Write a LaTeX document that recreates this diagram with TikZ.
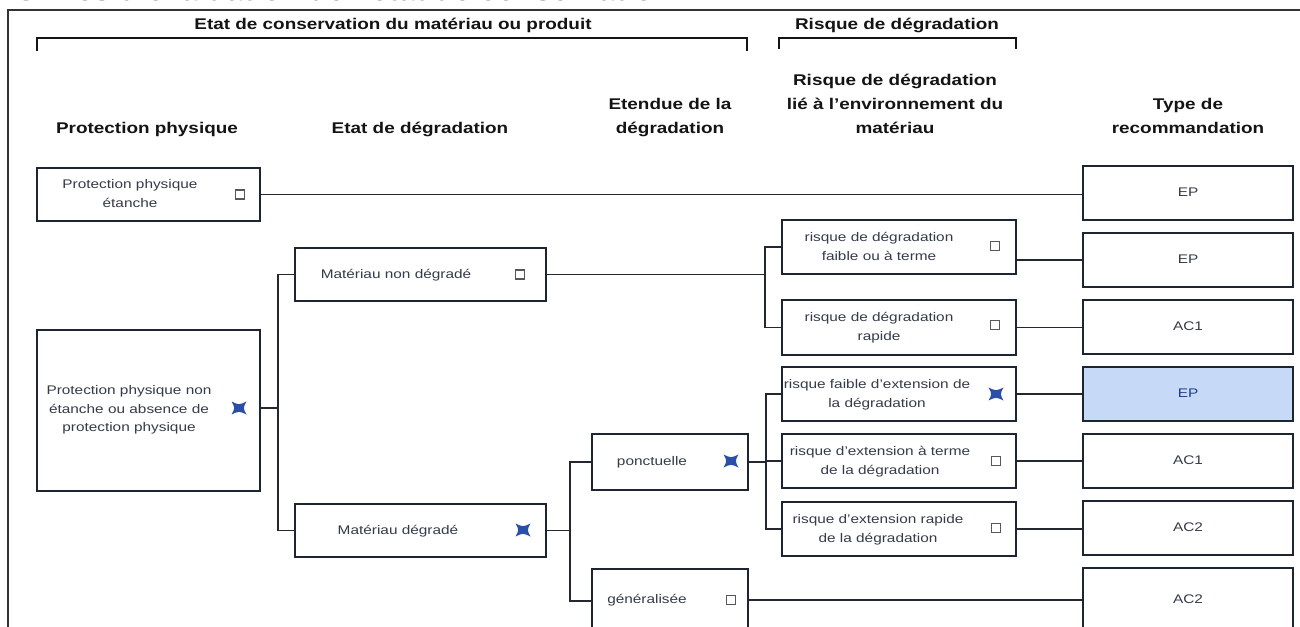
\documentclass[tikz,border=0pt]{standalone}
\usepackage{fontspec}
\setmainfont{Liberation Sans}
\definecolor{boxc}{HTML}{1E2532}
\definecolor{conc}{HTML}{23272F}
\definecolor{txtc}{HTML}{353B48}
\definecolor{hdrc}{HTML}{141414}
\definecolor{xblue}{HTML}{2B4FA6}
\definecolor{hlfill}{HTML}{C6DAF7}
\definecolor{chkc}{HTML}{55585F}
\newcommand\bt[1]{\scalebox{1.23}[1]{\fontsize{12.5}{19}\selectfont\begin{tabular}{@{}c@{}}#1\end{tabular}}}
\newcommand\btt[1]{\scalebox{1.23}[1]{\fontsize{12.5}{18.5}\selectfont\begin{tabular}{@{}c@{}}#1\end{tabular}}}
\newcommand\hdr[1]{\scalebox{1.22}[1]{\fontsize{15.5}{24}\selectfont\bfseries\begin{tabular}{@{}c@{}}#1\end{tabular}}}
\begin{document}
\begin{tikzpicture}[x=1pt,y=-1pt,
  box/.style={draw=boxc,line width=1.7pt,fill=white,inner sep=0pt},
  hlbox/.style={box,fill=hlfill},
  con/.style={draw=conc,line width=1.7pt},
  brk/.style={draw=hdrc,line width=1.5pt},
  frm/.style={draw=black!80,line width=1.4pt},
  txt/.style={text=txtc,inner sep=0pt},
  hd/.style={text=hdrc,inner sep=0pt},
  chk/.style={draw=chkc,line width=1.2pt,minimum size=9pt,inner sep=0pt,fill=white},
  xm/.pic={\fill[xblue] (-7.5,-6.5) .. controls (0,-3) .. (7.5,-6.5) .. controls (4,0) .. (7.5,6.5) .. controls (0,3) .. (-7.5,6.5) .. controls (-4,0) .. (-7.5,-6.5) -- cycle;}
]
\useasboundingbox (0,0) rectangle (1300,626);
\fill[white] (0,0) rectangle (1300,626);
% cut-off title
\node[hd,anchor=base west,font=\fontsize{31}{34}\selectfont\bfseries] (title) at (14,1) {Grilles d'évaluation de l'état de conservation};
% frame
\draw[frm] (8,650) -- (8,10) -- (1310,10);
% brackets
\draw[brk] (37,51) -- (37,38) -- (747,38) -- (747,51);
\draw[brk] (779,49) -- (779,38) -- (1016,38) -- (1016,49);
\node[hd] (b1) at (393,25) {\hdr{Etat de conservation du matériau ou produit}};
\node[hd] (b2) at (897,25) {\hdr{Risque de dégradation}};
% column headers
\node[hd] (h1) at (147,129) {\hdr{Protection physique}};
\node[hd] (h2) at (420,129) {\hdr{Etat de dégradation}};
\node[hd] (h3) at (670,117) {\hdr{Etendue de la\\dégradation}};
\node[hd] (h4) at (895,105) {\hdr{Risque de dégradation\\lié à l'environnement du\\matériau}};
\node[hd] (h5) at (1188,117) {\hdr{Type de\\recommandation}};
% boxes
\node[box,minimum width=223pt,minimum height=53pt] (pe) at (148.5,194.5) {};
\node[box,minimum width=223pt,minimum height=161pt] (pn) at (148.5,410.5) {};
\node[box,minimum width=251pt,minimum height=53pt] (mn) at (420.5,274.5) {};
\node[box,minimum width=251pt,minimum height=53pt] (md) at (420.5,530.5) {};
\node[box,minimum width=156pt,minimum height=56pt] (po) at (670,462) {};
\node[box,minimum width=156pt,minimum height=64pt] (ge) at (670,601) {};
\node[box,minimum width=234pt,minimum height=54pt] (r1) at (899,247) {};
\node[box,minimum width=234pt,minimum height=55pt] (r2) at (899,327.5) {};
\node[box,minimum width=234pt,minimum height=54pt] (r3) at (899,394) {};
\node[box,minimum width=234pt,minimum height=54pt] (r4) at (899,461) {};
\node[box,minimum width=234pt,minimum height=54pt] (r5) at (899,529) {};
\node[box,minimum width=210pt,minimum height=54pt] (t1) at (1188,193) {};
\node[box,minimum width=210pt,minimum height=54pt] (t2) at (1188,260) {};
\node[box,minimum width=210pt,minimum height=54pt] (t3) at (1188,327) {};
\node[hlbox,minimum width=210pt,minimum height=54pt] (t4) at (1188,394) {};
\node[box,minimum width=210pt,minimum height=54pt] (t5) at (1188,461) {};
\node[box,minimum width=210pt,minimum height=54pt] (t6) at (1188,528) {};
\node[box,minimum width=210pt,minimum height=64pt] (t7) at (1188,600) {};
% junctions
\coordinate (j1) at (278,408);
\coordinate (j2) at (765,274);
\coordinate (j3) at (570,530);
\coordinate (j4) at (766,462);
% connectors
\draw[con] (pe.east) -- (pe.east -| t1.west);
\draw[con] (pn.east |- j1) -- (j1);
\draw[con] (mn.west) -- (mn.west -| j1) -- (md.west -| j1) -- (md.west);
\draw[con] (mn.east) -- (mn.east -| j2);
\draw[con] (r1.west) -- (r1.west -| j2) -- (r2.west -| j2) -- (r2.west);
\draw[con] (r1.east |- t2.west) -- (t2.west);
\draw[con] (r2.east) -- (r2.east -| t3.west);
\draw[con] (md.east) -- (md.east -| j3);
\draw[con] (po.west) -- (po.west -| j3) -- (ge.west -| j3) -- (ge.west);
\draw[con] (po.east) -- (po.east -| j4);
\draw[con] (r3.west) -- (r3.west -| j4) -- (r5.west -| j4) -- (r5.west);
\draw[con] (r4.west) -- (r4.west -| j4);
\draw[con] (r3.east) -- (r3.east -| t4.west);
\draw[con] (r4.east) -- (r4.east -| t5.west);
\draw[con] (r5.east) -- (r5.east -| t6.west);
\draw[con] (ge.east |- t7.west) -- (t7.west);
% texts
\node[txt] (pe-t) at (130,194.5) {\bt{Protection physique\\étanche}};
\node[txt] (pn-t) at (129,409.5) {\btt{Protection physique non\\étanche ou absence de\\protection physique}};
\node[txt] (mn-t) at (396,274.5) {\bt{Matériau non dégradé}};
\node[txt] (md-t) at (398,530.5) {\bt{Matériau dégradé}};
\node[txt] (po-t) at (652,462) {\bt{ponctuelle}};
\node[txt] (ge-t) at (647,600) {\bt{généralisée}};
\node[txt] (r1-t) at (879,247) {\bt{risque de dégradation\\faible ou à terme}};
\node[txt] (r2-t) at (879,327.5) {\bt{risque de dégradation\\rapide}};
\node[txt] (r3-t) at (877,394) {\bt{risque faible d'extension de\\la dégradation}};
\node[txt] (r4-t) at (880,461) {\bt{risque d'extension à terme\\de la dégradation}};
\node[txt] (r5-t) at (878,529) {\bt{risque d'extension rapide\\de la dégradation}};
\node[txt] (t1-t) at (1188,193) {\bt{EP}};
\node[txt] (t2-t) at (1188,260) {\bt{EP}};
\node[txt] (t3-t) at (1188,327) {\bt{AC1}};
\node[txt,text=xblue!80!black] (t4-t) at (1188,394) {\bt{EP}};
\node[txt] (t5-t) at (1188,461) {\bt{AC1}};
\node[txt] (t6-t) at (1188,528) {\bt{AC2}};
\node[txt] (t7-t) at (1188,600) {\bt{AC2}};
% check boxes and marks
\node[chk] (pe-c) at (240,194.5) {};
\node[chk] (mn-c) at (520,274.5) {};
\node[chk] (ge-c) at (731,600) {};
\node[chk] (r1-c) at (995,246) {};
\node[chk] (r2-c) at (995,325) {};
\node[chk] (r4-c) at (996,461) {};
\node[chk] (r5-c) at (996,528) {};
\pic (pn-x) at (239,408) {xm};
\pic (md-x) at (523,530) {xm};
\pic (po-x) at (731,461) {xm};
\pic (r3-x) at (996,394) {xm};
\end{tikzpicture}
\end{document}
